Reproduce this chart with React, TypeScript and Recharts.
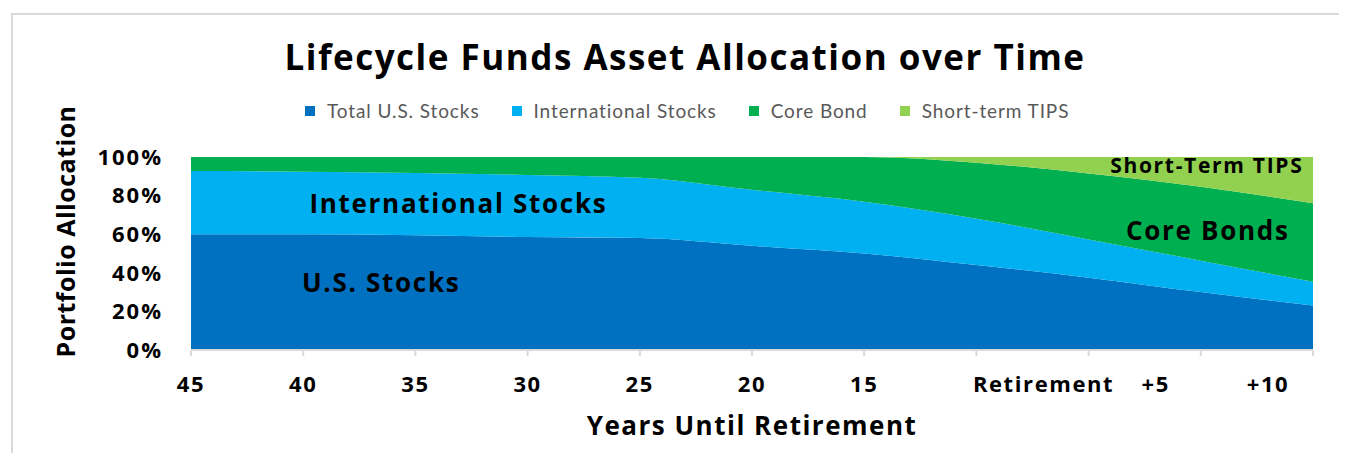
import React from 'react';
import { AreaChart, Area, XAxis, YAxis, ReferenceDot, Label } from 'recharts';

// years until retirement, one point per tick
const YEARS = ['45', '40', '35', '30', '25', '20', '15', '10', '5', '0', '+5'];
const TICK_TEXT = ['45', '40', '35', '30', '25', '20', '15', '', 'Retirement', '+5', '+10'];

const US_STOCKS = [60, 60, 59.5, 58.5, 58, 54, 50, 44, 37.5, 30, 23];
const INTL_STOCKS = [32.7, 32.4, 32.2, 32.2, 31.3, 29, 26.8, 24, 19.8, 16.3, 12.4];
const CORE_BOND = [7.3, 7.6, 8.3, 9.3, 10.7, 17, 23.2, 29, 34.2, 38.3, 40.6];
const SHORT_TIPS = [0, 0, 0, 0, 0, 0, 0, 3, 8.5, 15.4, 24];

const Y_TICKS = [0, 20, 40, 60, 80, 100];

const SERIES = [
  { key: 'us', name: 'Total U.S. Stocks', color: '#0070C0' },
  { key: 'intl', name: 'International Stocks', color: '#00B0F0' },
  { key: 'bond', name: 'Core Bond', color: '#00B050' },
  { key: 'tips', name: 'Short-term TIPS', color: '#92D050' },
];

const data = YEARS.map((year, i) => ({
  year,
  us: US_STOCKS[i],
  intl: INTL_STOCKS[i],
  bond: CORE_BOND[i],
  tips: SHORT_TIPS[i],
}));

const FONT = '"Open Sans", sans-serif';

const XTick = (props: any) => {
  const { x, y, index } = props;
  // the labels after 15 sit between the tick marks
  const shift = index >= 8 ? -45 : 0;
  return (
    <text x={x + shift} y={y + 25} textAnchor="middle" dominantBaseline="central"
      fontFamily={FONT} fontWeight={700} fontSize={22} letterSpacing={1.6} fill="#000">
      {TICK_TEXT[index]}
    </text>
  );
};

const note = (text: string, dx: number, size: number) => (props: any) => {
  const { viewBox } = props;
  return (
    <text x={viewBox.x + dx} y={viewBox.y} textAnchor="middle" dominantBaseline="central"
      fontFamily={FONT} fontWeight={700} fontSize={size} letterSpacing={1.7} fill="#000">
      {text}
    </text>
  );
};

export default function App() {
  return (
    <div style={{ position: 'relative', margin: '-8px 0 0 -8px', width: 1347, height: 453, overflow: 'hidden' }}>
      <div style={{ position: 'absolute', left: 11, top: 13, width: 1400, height: 500, borderTop: '2px solid #d9d9d9', borderLeft: '2px solid #d9d9d9' }}>
        <div style={{ position: 'absolute', top: 18, left: 0, width: 1336, paddingLeft: 8, boxSizing: 'border-box', textAlign: 'center', fontFamily: FONT, fontWeight: 700, fontSize: 35, letterSpacing: 1.5, color: '#000' }}>
          Lifecycle Funds Asset Allocation over Time
        </div>
        <div style={{ position: 'absolute', top: 84, left: 292, display: 'flex', gap: 32, fontFamily: 'Lato, sans-serif', fontSize: 19, letterSpacing: 0.9, color: '#595959' }}>
          {SERIES.map((s) => (
            <div key={s.key} style={{ display: 'flex', alignItems: 'center' }}>
              <span style={{ width: 10, height: 10, background: s.color, display: 'inline-block', marginRight: 12 }} />
              <span>{s.name}</span>
            </div>
          ))}
        </div>
        <AreaChart width={1336} height={440} data={data} margin={{ top: 142, right: 36, bottom: 15, left: 40 }}>
          <XAxis dataKey="year" height={90} interval={0} tick={<XTick />}
            axisLine={{ stroke: '#d9d9d9', strokeWidth: 2 }} tickLine={{ stroke: '#d9d9d9', strokeWidth: 2 }} tickSize={6}>
            <Label content={(p: any) => (
              <text x={p.viewBox.x + p.viewBox.width / 2} y={p.viewBox.y + 75} textAnchor="middle" dominantBaseline="central"
                fontFamily={FONT} fontWeight={700} fontSize={26} letterSpacing={1.5} fill="#000">Years Until Retirement</text>
            )} />
          </XAxis>
          <YAxis domain={[0, 100]} ticks={Y_TICKS} width={138} tickFormatter={(v) => `${v}%`}
            axisLine={false} tickLine={false} tickSize={0} tickMargin={28}
            tick={{ fontFamily: FONT, fontWeight: 700, fontSize: 22, letterSpacing: 2, fill: '#000' }}>
            <Label content={(p: any) => {
              const cx = p.viewBox.x + 12;
              const cy = p.viewBox.y + p.viewBox.height / 2 - 22;
              return (
                <text x={cx} y={cy} textAnchor="middle" dominantBaseline="central" transform={`rotate(-90 ${cx} ${cy})`}
                  fontFamily={FONT} fontWeight={700} fontSize={25} letterSpacing={0.5} fill="#000">Portfolio Allocation</text>
              );
            }} />
          </YAxis>
          {SERIES.map((s) => (
            <Area key={s.key} type="monotone" dataKey={s.key} name={s.name} stackId="1"
              stroke="none" fill={s.color} fillOpacity={1} isAnimationActive={false} />
          ))}
          <ReferenceDot x="35" y={76} r={0} stroke="none" label={note('International Stocks', 43, 26)} />
          <ReferenceDot x="40" y={35} r={0} stroke="none" label={note('U.S. Stocks', 78, 26)} />
          <ReferenceDot x="0" y={62} r={0} stroke="none" label={note('Core Bonds', 7, 26)} />
          <ReferenceDot x="0" y={96} r={0} stroke="none" label={note('Short-Term TIPS', 6, 21)} />
        </AreaChart>
      </div>
    </div>
  );
}
